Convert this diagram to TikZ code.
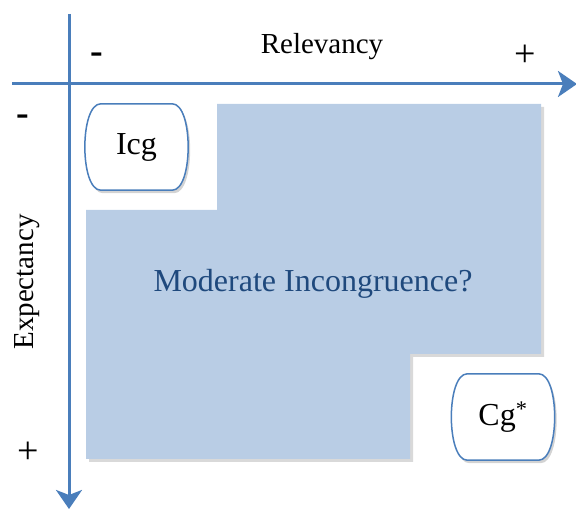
\documentclass[tikz,border=0pt]{standalone}
\usepackage{fontspec}
\setmainfont{Liberation Serif}
\usetikzlibrary{arrows.meta,shadows,backgrounds}
\definecolor{axisblue}{HTML}{4A7EBB}
\definecolor{areablue}{HTML}{B9CDE5}
\definecolor{textblue}{HTML}{1F497D}

\tikzset{
  axis/.style={line width=3pt,draw=axisblue,-{Stealth[length=19pt,width=26pt,inset=5pt]}},
  quadbox/.style={minimum width=103pt,minimum height=86pt,inner sep=0pt},
  boxline/.style={draw=axisblue,line width=1.5pt,fill=white,
    drop shadow={shadow xshift=2pt,shadow yshift=-3pt,opacity=0.35}},
  lbl/.style={font=\fontsize{29}{34}\selectfont},
  biglbl/.style={font=\fontsize{32}{38}\selectfont},
  sign/.style={font=\fontsize{38}{44}\selectfont}
}

\begin{document}
\begin{tikzpicture}[x=1pt,y=-1pt]
\useasboundingbox (0,0) rectangle (576,510);
% moderate area
\fill[areablue,drop shadow={shadow xshift=3pt,shadow yshift=-3pt,opacity=0.3}]
  (217,104) -- (541,104) -- (541,354) -- (410,354) -- (410,459)
  -- (86,459) -- (86,210) -- (217,210) -- cycle;
\node[biglbl,text=textblue] (moderate) at (313,284) {Moderate Incongruence?};
% axes
\coordinate (xstart) at (12,84);
\coordinate (xend) at (577,84);
\coordinate (ystart) at (69,14);
\coordinate (yend) at (69,509);
\draw[axis] (xstart) -- (xend);
\draw[axis] (ystart) -- (yend);
% labels
\node[lbl] (relevancy) at (322,47) {Relevancy};
\node[lbl,rotate=90] (expectancy) at (27,282) {Expectancy};
\node[sign] (relminus) at (97,58) {\textbf{-}};
\node[sign] (relplus) at (525,56) {+};
\node[sign] (expminus) at (23,120) {\textbf{-}};
\node[sign] (expplus) at (28,453) {+};
% boxes
\node[quadbox,biglbl] (icg) at (136.5,147) {Icg};
\node[quadbox,biglbl] (cg) at (503,417) {Cg\textsuperscript{*}};
\begin{scope}[on background layer]
\foreach \b in {icg,cg}
  \draw[boxline] ([xshift=16pt]\b.north west) -- ([xshift=-16pt]\b.north east)
    .. controls ([xshift=5.3pt]\b.north east) and ([xshift=5.3pt]\b.south east) .. ([xshift=-16pt]\b.south east)
    -- ([xshift=16pt]\b.south west)
    .. controls ([xshift=-5.3pt]\b.south west) and ([xshift=-5.3pt]\b.north west) .. cycle;
\end{scope}
\end{tikzpicture}
\end{document}
